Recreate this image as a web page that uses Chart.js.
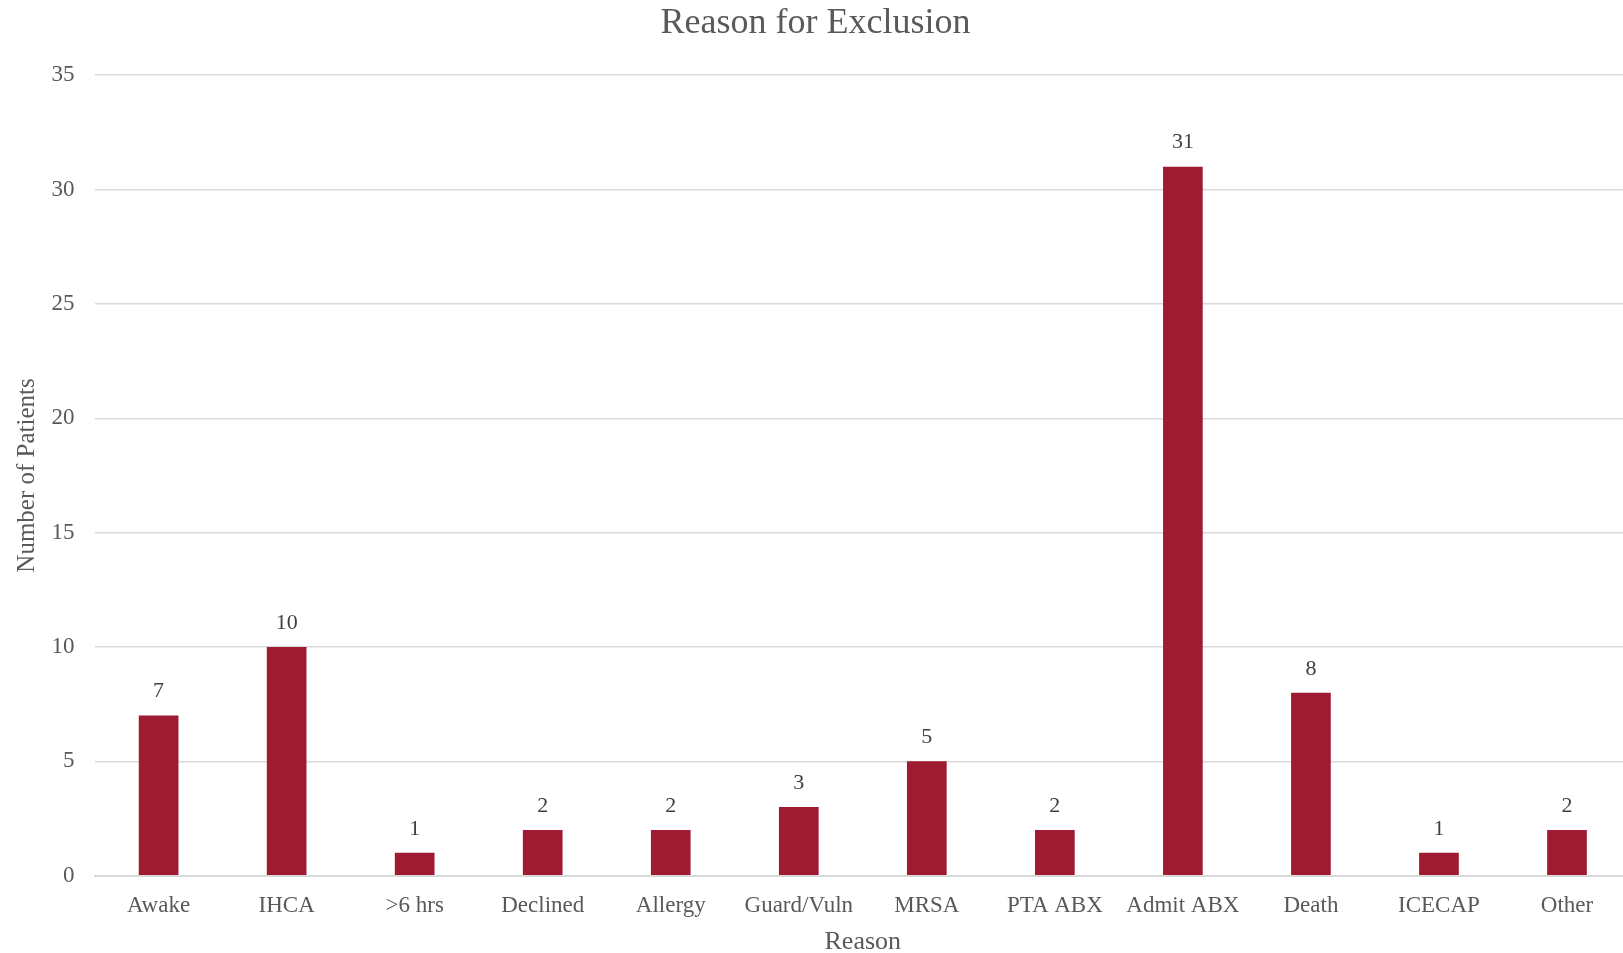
<!DOCTYPE html>
<html>
<head>
<meta charset="utf-8">
<script src="https://cdn.jsdelivr.net/npm/chart.js@4.4.1/dist/chart.umd.min.js"></script>
<style>
  html, body { margin: 0; padding: 0; background: #fff; overflow: hidden; }
  #wrap { width: 1631px; height: 953px; }
</style>
</head>
<body>
<div id="wrap"><canvas id="chart" width="1631" height="953"></canvas></div>
<script>
// Reason for Exclusion — counts per reason
const reasons = ['Awake', 'IHCA', '>6 hrs', 'Declined', 'Allergy', 'Guard/Vuln', 'MRSA', 'PTA ABX', 'Admit ABX', 'Death', 'ICECAP', 'Other'];
const patients = [7, 10, 1, 2, 2, 3, 5, 2, 31, 8, 1, 2];
const yTicks = [0, 5, 10, 15, 20, 25, 30, 35];

const FONT = '"Liberation Serif", "DejaVu Serif", serif';
const TEXT = '#595959';

// simple value labels above each bar
const valueLabels = {
  id: 'valueLabels',
  afterDatasetsDraw(chart) {
    const ctx = chart.ctx;
    const meta = chart.getDatasetMeta(0);
    ctx.save();
    ctx.font = '22px ' + FONT;
    ctx.fillStyle = '#404040';
    ctx.textAlign = 'center';
    ctx.textBaseline = 'middle';
    meta.data.forEach((bar, i) => {
      ctx.fillText(String(patients[i]), bar.x, bar.y - 24);
    });
    ctx.restore();
  },
};

new Chart(document.getElementById('chart'), {
  type: 'bar',
  data: {
    labels: reasons,
    datasets: [{
      data: patients,
      backgroundColor: '#9e1b32',
      borderWidth: 0,
      categoryPercentage: 1,
      barPercentage: 0.31,
    }],
  },
  options: {
    responsive: false,
    animation: false,
    layout: { padding: 0 },
    plugins: {
      legend: { display: false },
      tooltip: { enabled: false },
      title: {
        display: true,
        text: 'Reason for Exclusion',
        color: TEXT,
        font: { family: FONT, size: 36, weight: 'normal' },
        padding: { top: 2, bottom: 30 },
      },
    },
    scales: {
      x: {
        afterFit: (axis) => { axis.height = 77.3; },
        grid: { display: false, drawTicks: false },
        border: { color: '#d9d9d9', width: 2 },
        ticks: { color: TEXT, font: { family: FONT, size: 23 }, padding: 16, maxRotation: 0, autoSkip: false },
        title: {
          display: true, text: 'Reason', color: TEXT,
          font: { family: FONT, size: 26, lineHeight: 1 }, padding: { top: 0, bottom: -2 },
        },
      },
      y: {
        min: 0,
        max: 35,
        afterBuildTicks: (axis) => { axis.ticks = yTicks.map(v => ({ value: v })); },
        afterFit: (axis) => { axis.width = 94.6; },
        grid: { color: '#d9d9d9', lineWidth: 1.5, drawTicks: false },
        border: { display: false },
        ticks: { color: TEXT, font: { family: FONT, size: 23 }, padding: 20 },
        title: {
          display: true, text: 'Number of Patients', color: TEXT,
          font: { family: FONT, size: 25, lineHeight: 1 }, padding: { top: 15, bottom: 0 },
        },
      },
    },
  },
  plugins: [valueLabels],
});
</script>
</body>
</html>
